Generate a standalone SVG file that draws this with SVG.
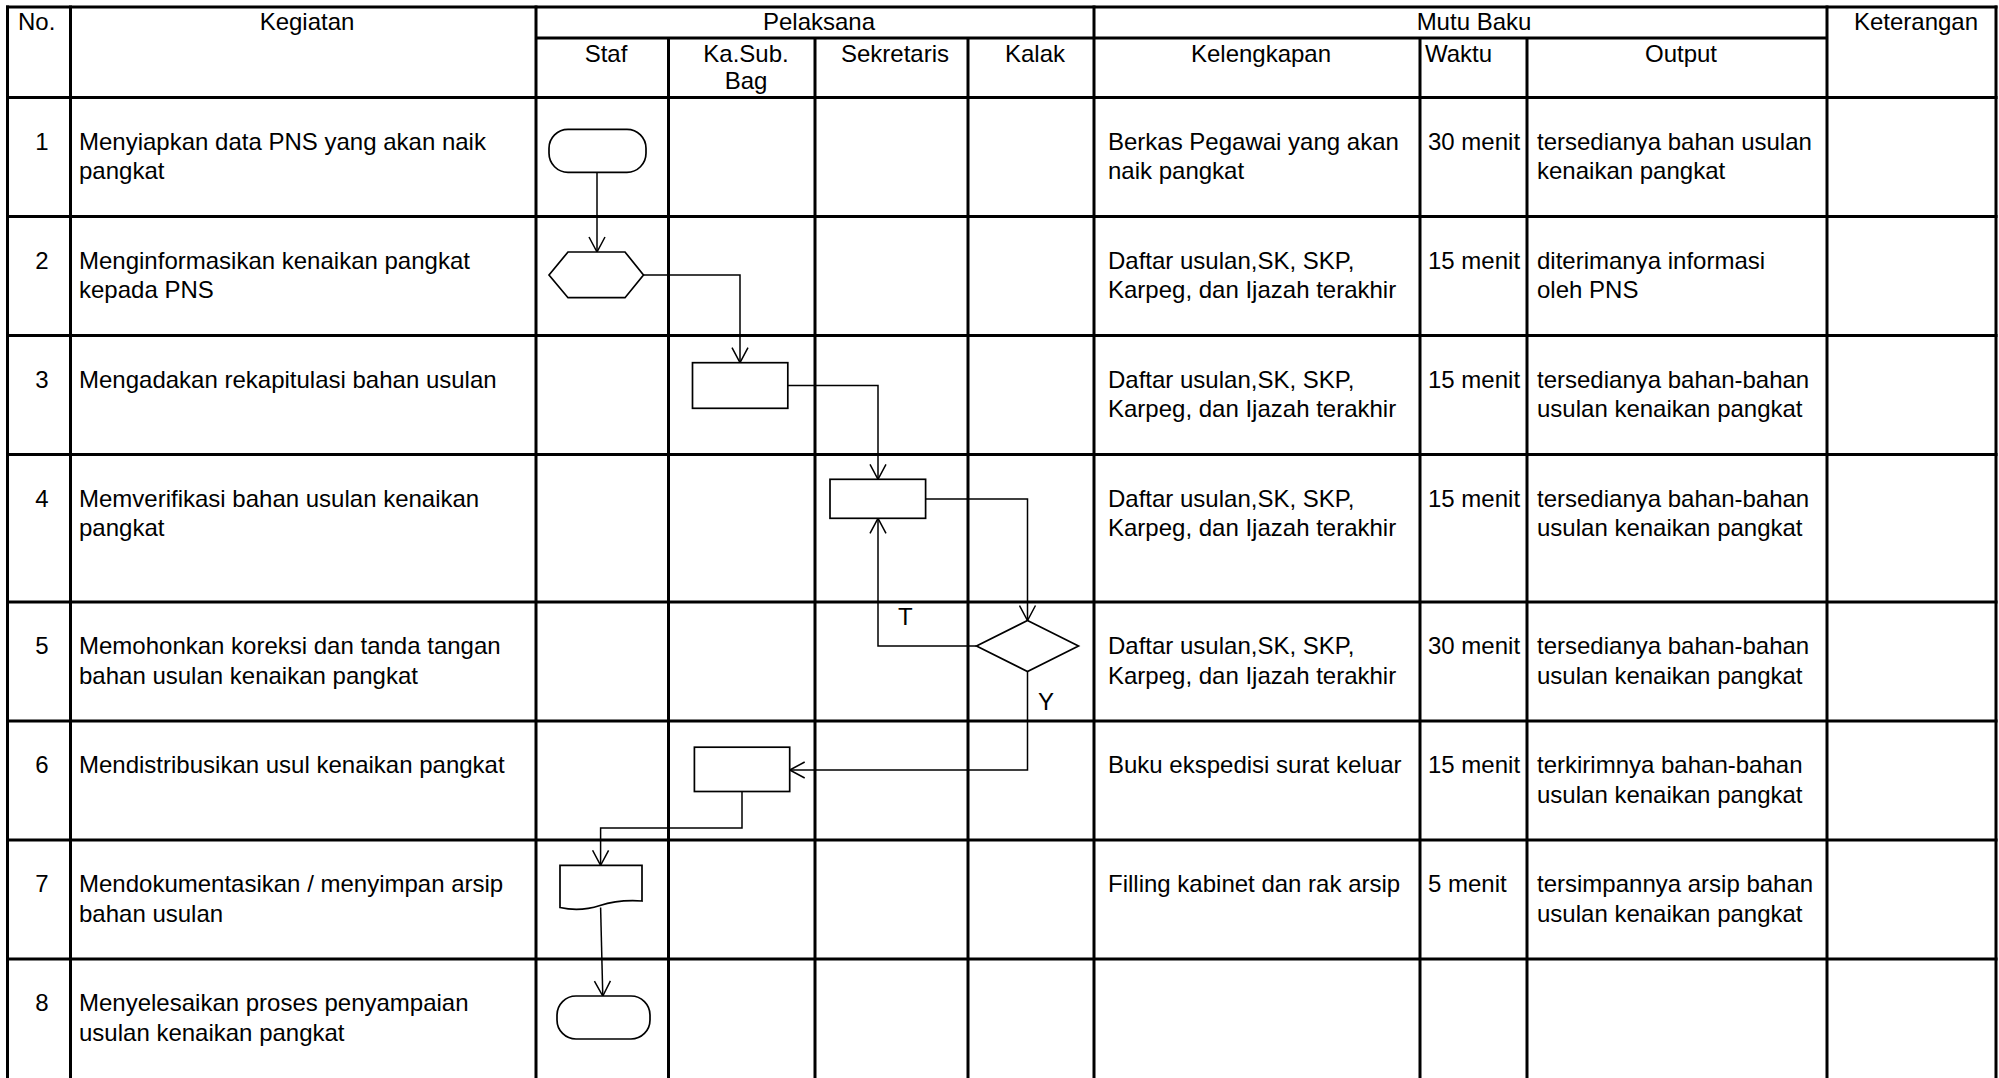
<svg xmlns="http://www.w3.org/2000/svg" width="1999" height="1078" viewBox="0 0 1999 1078">
<style>
.grid{stroke:#000;stroke-width:3;fill:none}
.shape{fill:#fff;stroke:#000;stroke-width:1.7}
.conn{fill:none;stroke:#000;stroke-width:1.5;marker-end:url(#arr)}
text{font-family:"Liberation Sans",Arial,sans-serif;font-size:24px;fill:#000}
.c{text-anchor:middle}
</style>
<defs>
<marker id="arr" markerUnits="userSpaceOnUse" viewBox="0 0 17 18" refX="16" refY="9" markerWidth="17" markerHeight="18" orient="auto">
<path d="M1,1 L16,9 L1,17" fill="none" stroke="#000" stroke-width="1.5"/>
</marker>
</defs>
<rect width="1999" height="1078" fill="#fff"/>
<g id="grid" class="grid">
<path d="M6,7 H1997.5 M536,38 H1827 M6,97.5 H1997.5 M6,216.5 H1997.5 M6,335.5 H1997.5 M6,454.5 H1997.5 M6,602 H1997.5 M6,721 H1997.5 M6,840 H1997.5 M6,959 H1997.5"/>
<path d="M7.5,5.5 V1078 M70.5,5.5 V1078 M536,5.5 V1078 M1094,5.5 V1078 M1827,5.5 V1078 M1996,5.5 V1078 M668.5,38 V1078 M815,38 V1078 M968,38 V1078 M1420,38 V1078 M1527,38 V1078"/>
</g>
<g id="header">
<text x="18" y="30">No.</text>
<text class="c" x="307" y="30">Kegiatan</text>
<text class="c" x="819" y="30">Pelaksana</text>
<text class="c" x="1474" y="30">Mutu Baku</text>
<text class="c" x="1916" y="30">Keterangan</text>
<text class="c" x="606" y="61.5">Staf</text>
<text class="c" x="746" y="61.5">Ka.Sub.</text>
<text class="c" x="746" y="88.5">Bag</text>
<text class="c" x="895" y="61.5">Sekretaris</text>
<text class="c" x="1035" y="61.5">Kalak</text>
<text class="c" x="1261" y="61.5">Kelengkapan</text>
<text x="1425" y="61.5">Waktu</text>
<text class="c" x="1681" y="61.5">Output</text>
</g>
<g id="row1">
<text class="c" x="42" y="149.5">1</text>
<text x="79" y="149.5">Menyiapkan data PNS yang akan naik</text>
<text x="79" y="179">pangkat</text>
<text x="1108" y="149.5">Berkas Pegawai yang akan</text>
<text x="1108" y="179">naik pangkat</text>
<text x="1428" y="149.5">30 menit</text>
<text x="1537" y="149.5">tersedianya bahan usulan</text>
<text x="1537" y="179">kenaikan pangkat</text>
</g>
<g id="row2">
<text class="c" x="42" y="268.5">2</text>
<text x="79" y="268.5">Menginformasikan kenaikan pangkat</text>
<text x="79" y="298">kepada PNS</text>
<text x="1108" y="268.5">Daftar usulan,SK, SKP,</text>
<text x="1108" y="298">Karpeg, dan Ijazah terakhir</text>
<text x="1428" y="268.5">15 menit</text>
<text x="1537" y="268.5">diterimanya informasi</text>
<text x="1537" y="298">oleh PNS</text>
</g>
<g id="row3">
<text class="c" x="42" y="387.5">3</text>
<text x="79" y="387.5">Mengadakan rekapitulasi bahan usulan</text>
<text x="1108" y="387.5">Daftar usulan,SK, SKP,</text>
<text x="1108" y="417">Karpeg, dan Ijazah terakhir</text>
<text x="1428" y="387.5">15 menit</text>
<text x="1537" y="387.5">tersedianya bahan-bahan</text>
<text x="1537" y="417">usulan kenaikan pangkat</text>
</g>
<g id="row4">
<text class="c" x="42" y="506.5">4</text>
<text x="79" y="506.5">Memverifikasi bahan usulan kenaikan</text>
<text x="79" y="536">pangkat</text>
<text x="1108" y="506.5">Daftar usulan,SK, SKP,</text>
<text x="1108" y="536">Karpeg, dan Ijazah terakhir</text>
<text x="1428" y="506.5">15 menit</text>
<text x="1537" y="506.5">tersedianya bahan-bahan</text>
<text x="1537" y="536">usulan kenaikan pangkat</text>
</g>
<g id="row5">
<text class="c" x="42" y="654">5</text>
<text x="79" y="654">Memohonkan koreksi dan tanda tangan</text>
<text x="79" y="683.5">bahan usulan kenaikan pangkat</text>
<text x="1108" y="654">Daftar usulan,SK, SKP,</text>
<text x="1108" y="683.5">Karpeg, dan Ijazah terakhir</text>
<text x="1428" y="654">30 menit</text>
<text x="1537" y="654">tersedianya bahan-bahan</text>
<text x="1537" y="683.5">usulan kenaikan pangkat</text>
</g>
<g id="row6">
<text class="c" x="42" y="773">6</text>
<text x="79" y="773">Mendistribusikan usul kenaikan pangkat</text>
<text x="1108" y="773">Buku ekspedisi surat keluar</text>
<text x="1428" y="773">15 menit</text>
<text x="1537" y="773">terkirimnya bahan-bahan</text>
<text x="1537" y="802.5">usulan kenaikan pangkat</text>
</g>
<g id="row7">
<text class="c" x="42" y="892">7</text>
<text x="79" y="892">Mendokumentasikan / menyimpan arsip</text>
<text x="79" y="921.5">bahan usulan</text>
<text x="1108" y="892">Filling kabinet dan rak arsip</text>
<text x="1428" y="892">5 menit</text>
<text x="1537" y="892">tersimpannya arsip bahan</text>
<text x="1537" y="921.5">usulan kenaikan pangkat</text>
</g>
<g id="row8">
<text class="c" x="42" y="1011">8</text>
<text x="79" y="1011">Menyelesaikan proses penyampaian</text>
<text x="79" y="1040.5">usulan kenaikan pangkat</text>
</g>
<g id="connectors">
<path class="conn" d="M597,172 V252"/>
<path class="conn" d="M643.5,275 H740 V362.7"/>
<path class="conn" d="M787.8,385.5 H878 V479.3"/>
<path class="conn" d="M925.6,499 H1027.5 V620.5"/>
<path class="conn" d="M976.5,646 H878 V518.3"/>
<path class="conn" d="M1027.5,671.5 V770 H789.7"/>
<path class="conn" d="M742,791.5 V828 H600.6 V865.3"/>
<path class="conn" d="M600.6,907.5 L602.8,996"/>
<text x="898" y="625">T</text>
<text x="1038" y="710">Y</text>
</g>
<g id="node-start"><rect class="shape" x="549" y="129.3" width="97" height="43" rx="19" ry="19"/></g>
<g id="node-inform"><polygon class="shape" points="549,275 568,252 625,252 643.5,275 625,297.7 568,297.7"/></g>
<g id="node-rekap"><rect class="shape" x="692.5" y="362.7" width="95.3" height="45.6"/></g>
<g id="node-verif"><rect class="shape" x="830" y="479.3" width="95.6" height="39"/></g>
<g id="node-decision"><polygon class="shape" points="1027.5,620.5 1078.5,646 1027.5,671.5 976.5,646"/></g>
<g id="node-distribusi"><rect class="shape" x="694.4" y="747.2" width="95.3" height="44.3"/></g>
<g id="node-dokumen"><path class="shape" d="M560,865.3 H642 V901 Q618,899.5 600,905.5 Q580,912 560,907.5 Z"/></g>
<g id="node-end"><rect class="shape" x="557" y="996" width="93" height="43" rx="19" ry="19"/></g>
</svg>
